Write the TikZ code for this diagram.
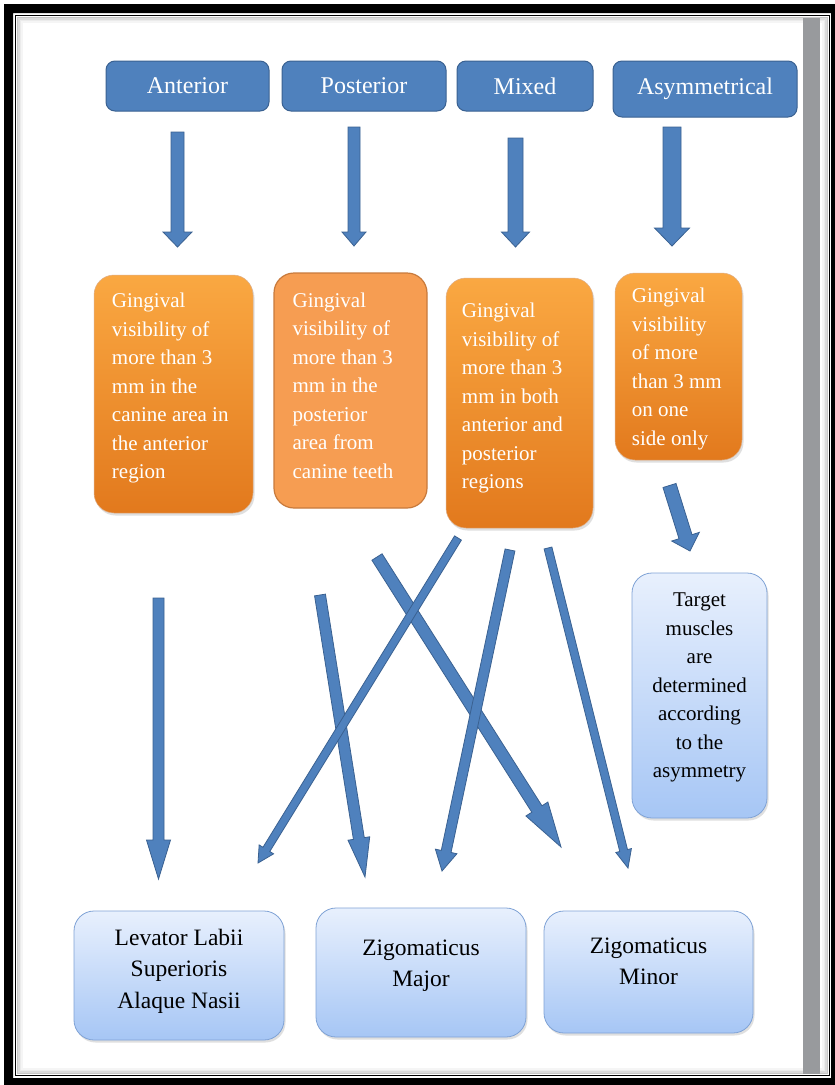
\documentclass[tikz,border=0pt]{standalone}
\usepackage{fontspec}
\setmainfont{Liberation Serif}
\usetikzlibrary{calc,shadows}

\definecolor{catblue}{RGB}{79,129,189}
\definecolor{catline}{RGB}{58,97,145}
\definecolor{orangetop}{RGB}{250,168,66}
\definecolor{orangebot}{RGB}{226,121,29}
\definecolor{orangeflat}{RGB}{246,157,82}
\definecolor{orangeline}{RGB}{200,122,60}
\definecolor{musctop}{RGB}{232,240,253}
\definecolor{muscbot}{RGB}{166,198,245}
\definecolor{muscline}{RGB}{128,163,214}
\definecolor{bargray}{RGB}{152,154,157}

% block arrow from (#1) to the tip (#2): half shaft width, half head width, head length
\def\blockarrow(#1)(#2)(#3:#4:#5){%
	\coordinate (ba-base) at ($(#2)!#5!(#1)$);
	\draw[arrowbody] ($(#1)!#3!90:(#2)$) -- ($(ba-base)!#3!90:(#2)$) -- ($(ba-base)!#4!90:(#2)$) -- (#2)
		-- ($(ba-base)!#4!-90:(#2)$) -- ($(ba-base)!#3!-90:(#2)$) -- ($(#1)!#3!-90:(#2)$) -- cycle;}

\tikzset{
	catbox/.style={draw=catline, line width=1pt, fill=catblue, rounded corners=9pt, inner sep=0pt,
		text=white, font=\fontsize{24}{28}\selectfont},
	signbox/.style={draw=orangeline!60, line width=0.5pt, rounded corners=20pt, inner sep=0pt,
		top color=orangetop, bottom color=orangebot,
		drop shadow={opacity=0.25, shadow xshift=1.5pt, shadow yshift=-2.5pt}},
	signflat/.style={draw=orangeline, line width=1.2pt, rounded corners=20pt, inner sep=0pt, fill=orangeflat},
	signtext/.style={anchor=north west, align=left, inner sep=0pt, text=white, font=\fontsize{21}{28.5}\selectfont},
	musclebox/.style={draw=muscline, line width=0.8pt, rounded corners=20pt, inner sep=0pt,
		top color=musctop, bottom color=muscbot,
		drop shadow={opacity=0.25, shadow xshift=1.5pt, shadow yshift=-2.5pt}},
	muscletext/.style={anchor=north, align=center, inner sep=0pt, font=\fontsize{23.5}{31.5}\selectfont},
	arrowbody/.style={draw=catline, line width=0.8pt, fill=catblue, line join=miter},
}

\begin{document}
\begin{tikzpicture}[x=1pt,y=-1pt]
	%%%%% PAGE %%%%%
	\useasboundingbox (0,0) rectangle (835,1085);
	\fill[white] (0,0) rectangle (835,1085);
	\fill[black, even odd rule] (4,4) rectangle (840,1090) (13,13) rectangle (831,1078);
	\draw[line width=1.5pt] (15.5,15.5) rectangle (829.5,1075.5);
	\foreach \d/\o in {2/0.22,3.5/0.14,5/0.08,6.5/0.04} {
		\draw[black, opacity=\o, line width=1.5pt] (15.5+\d,15.5+\d) rectangle (829.5-\d,1075.5-\d);
	}
	\fill[bargray] (803,18) rectangle (820,1074);
	
	%%%%% TYPES %%%%%
	\node[catbox, minimum width=163pt, minimum height=50pt] (ant) at (187.5,86) {Anterior};
	\node[catbox, minimum width=164pt, minimum height=50pt] (pos) at (364,86) {Posterior};
	\node[catbox, minimum width=136pt, minimum height=50pt] (mix) at (525,86) {Mixed};
	\node[catbox, minimum width=184pt, minimum height=56pt] (asy) at (705,89) {Asymmetrical};
	
	%%%%% SIGNS %%%%%
	\node[signbox, minimum width=159pt, minimum height=238pt] (antg) at (173.5,394) {};
	\node[signtext] (antgt) at ([xshift=18pt,yshift=-18pt]antg.north west)
		{Gingival\\visibility of\\more than 3\\mm in the\\canine area in\\the anterior\\region};
	
	\node[signflat, minimum width=153pt, minimum height=235pt] (posg) at (350.5,390.5) {};
	\node[signtext] (posgt) at ([xshift=19pt,yshift=-20pt]posg.north west)
		{Gingival\\visibility of\\more than 3\\mm in the\\posterior\\area from\\canine teeth};
	
	\node[signbox, minimum width=147pt, minimum height=250pt] (mixg) at (519.5,403) {};
	\node[signtext] (mixgt) at ([xshift=16pt,yshift=-25pt]mixg.north west)
		{Gingival\\visibility of\\more than 3\\mm in both\\anterior and\\posterior\\regions};
	
	\node[signbox, minimum width=127pt, minimum height=187pt] (asyg) at (678.5,366.5) {};
	\node[signtext] (asygt) at ([xshift=17pt,yshift=-15pt]asyg.north west)
		{Gingival\\visibility\\of more\\than 3 mm\\on one\\side only};
	
	%%%%% MUSCLES %%%%%
	\node[musclebox, minimum width=135pt, minimum height=245pt] (targ) at (699.5,695.5) {};
	\node[muscletext, font=\fontsize{21}{28.5}\selectfont] (targt) at ([yshift=-20pt]targ.north)
		{Target\\muscles\\are\\determined\\according\\to the\\asymmetry};
	
	\node[musclebox, minimum width=210pt, minimum height=129pt] (lev) at (179,975.5) {};
	\node[muscletext] (levt) at ([yshift=-18pt]lev.north) {Levator Labii\\Superioris\\Alaque Nasii};
	
	\node[musclebox, minimum width=210pt, minimum height=129pt] (maj) at (421,972.5) {};
	\node[muscletext] (majt) at ([yshift=-32pt]maj.north) {Zigomaticus\\Major};
	
	\node[musclebox, minimum width=209pt, minimum height=122pt] (min) at (648.5,972) {};
	\node[muscletext] (mint) at ([yshift=-27pt]min.north) {Zigomaticus\\Minor};
	
	%%%%% ARROWS %%%%%
	\coordinate (ant-s) at (177.5,132); \coordinate (ant-e) at (177.5,247);
	\coordinate (pos-s) at (354,127);   \coordinate (pos-e) at (354,246);
	\coordinate (mix-s) at (515.5,138); \coordinate (mix-e) at (515.5,247);
	\coordinate (asy-s) at (672,127);   \coordinate (asy-e) at (672,246);
	\blockarrow(ant-s)(ant-e)(6.5pt:14.5pt:15pt);
	\blockarrow(pos-s)(pos-e)(6pt:12pt:14pt);
	\blockarrow(mix-s)(mix-e)(7.5pt:14pt:15pt);
	\blockarrow(asy-s)(asy-e)(9pt:17.5pt:18pt);
	
	\coordinate (side-s) at (669.5,485.5); \coordinate (side-e) at (690,551);
	\blockarrow(side-s)(side-e)(6.8pt:14.5pt:15pt);
	
	\coordinate (lev-s) at (158.5,598); \coordinate (lev-e) at (158.5,879);
	\coordinate (maj-s) at (320,595);   \coordinate (maj-e) at (365,877);
	\coordinate (mix-a) at (377,557);   \coordinate (mix-ae) at (561,847);
	\coordinate (mix-b) at (458,538);   \coordinate (mix-be) at (258,863);
	\coordinate (mix-c) at (510,550);   \coordinate (mix-ce) at (442,871);
	\coordinate (mix-d) at (548,548);   \coordinate (mix-de) at (628,868);
	\blockarrow(lev-s)(lev-e)(5.5pt:12pt:39pt);
	\blockarrow(maj-s)(maj-e)(5.5pt:11pt:39pt);
	\blockarrow(mix-a)(mix-ae)(6pt:13pt:45pt);
	\blockarrow(mix-b)(mix-be)(4pt:8.5pt:16pt);
	\blockarrow(mix-c)(mix-ce)(5pt:11pt:20pt);
	\blockarrow(mix-d)(mix-de)(4pt:8pt:18pt);
\end{tikzpicture}
\end{document}
